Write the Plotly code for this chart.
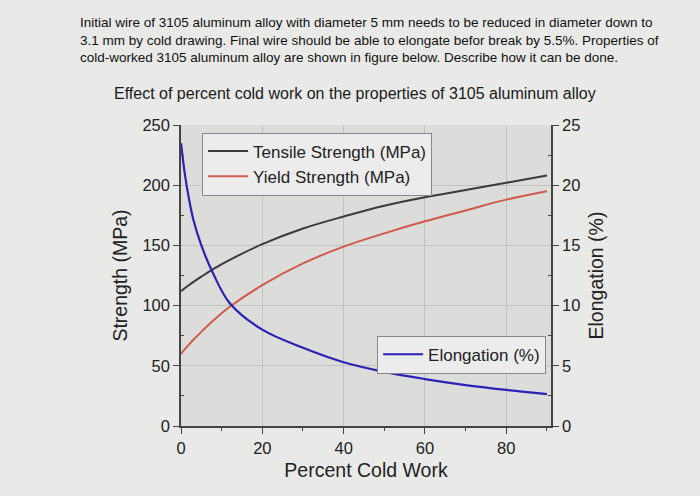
import plotly.graph_objects as go

# Data
cold_work = [0, 1, 2, 3, 5, 8, 12, 20, 30, 40, 50, 60, 70, 80, 90]
tensile_strength = [112, 114.6, 117.1, 119.5, 124, 130.5, 138, 151, 164, 174, 183, 190, 196, 202, 208]
yield_strength = [60, 64, 67.8, 71.4, 78.2, 87.8, 99, 117, 135, 149, 160, 170, 179, 188, 195]
elongation = [23.5, 20.8, 18.8, 17.2, 15.0, 12.6, 10.2, 8.0, 6.5, 5.3, 4.5, 3.9, 3.4, 3.0, 2.65]

strength_ticks = [0, 50, 100, 150, 200, 250]
elong_ticks = [0, 5, 10, 15, 20, 25]
x_ticks = [0, 20, 40, 60, 80]

question = ("Initial wire of 3105 aluminum alloy with diameter 5 mm needs to be reduced in diameter down to<br>"
            "3.1 mm by cold drawing. Final wire should be able to elongate befor break by 5.5%. Properties of<br>"
            "cold-worked 3105 aluminum alloy are shown in figure below. Describe how it can be done.")
chart_title = "Effect of percent cold work on the properties of 3105 aluminum alloy"

FONT = "Liberation Sans, Arial, sans-serif"
fig = go.Figure()
fig.add_trace(go.Scatter(x=cold_work, y=tensile_strength, mode="lines", name="Tensile Strength (MPa)",
                         line=dict(color="#3a3a3a", width=2, shape="spline", smoothing=1.0), legend="legend"))
fig.add_trace(go.Scatter(x=cold_work, y=yield_strength, mode="lines", name="Yield Strength (MPa)",
                         line=dict(color="#cf5a4c", width=2, shape="spline", smoothing=1.0), legend="legend"))
fig.add_trace(go.Scatter(x=cold_work, y=elongation, mode="lines", name="Elongation (%)", yaxis="y2",
                         line=dict(color="#2b21b5", width=2.2, shape="spline", smoothing=1.0), legend="legend2"))

axis_common = dict(showline=True, linecolor="#444", linewidth=1.5, ticks="outside", ticklen=6,
                   tickcolor="#444", tickfont=dict(size=16.5, color="#222", family=FONT),
                   zeroline=False)
title_font = dict(size=19.5, family=FONT, color="#222")

fig.update_layout(
    width=700, height=496,
    margin=dict(l=181, r=149, t=125, b=70),
    paper_bgcolor="#e9e9e7", plot_bgcolor="#dcdcda",
    font=dict(family=FONT, color="#222"),
    xaxis=dict(range=[0, 91], tickvals=x_ticks, showgrid=True, gridcolor="#c3c3c3", gridwidth=1,
               minor=dict(tickvals=[10, 30, 50, 70, 90], ticks="outside", ticklen=3, tickcolor="#444"),
               title=dict(text="Percent Cold Work", font=title_font, standoff=8),
               **axis_common),
    yaxis=dict(range=[0, 250], tickvals=strength_ticks, showgrid=True, gridcolor="#c3c3c3", gridwidth=1,
               minor=dict(tickvals=[25, 75, 125, 175, 225], ticks="inside", ticklen=3, tickcolor="#444"),
               title=dict(text="Strength (MPa)", font=title_font, standoff=10),
               **axis_common),
    yaxis2=dict(range=[0, 25], tickvals=elong_ticks, overlaying="y", side="right", showgrid=False,
                minor=dict(tickvals=[2.5, 7.5, 12.5, 17.5, 22.5], ticks="inside", ticklen=3, tickcolor="#444"),
                title=dict(text="Elongation (%)", font=title_font, standoff=10),
                **axis_common),
    legend=dict(x=0.057, y=0.975, xanchor="left", yanchor="top", bgcolor="#ececec",
                bordercolor="#888", borderwidth=1, font=dict(size=17, family=FONT),
                tracegroupgap=0, itemwidth=40),
    legend2=dict(x=0.53, y=0.30, xanchor="left", yanchor="top", bgcolor="#ececec",
                 bordercolor="#888", borderwidth=1, font=dict(size=17, family=FONT), itemwidth=40),
    showlegend=True,
    annotations=[
        dict(text=question, xref="paper", yref="paper", x=-0.278, y=1.372, xanchor="left", yanchor="top",
             align="left", showarrow=False, font=dict(size=13.5, family=FONT, color="#111")),
        dict(text=chart_title, xref="paper", yref="paper", x=0.47, y=1.106, xanchor="center", yanchor="middle",
             showarrow=False, font=dict(size=16, family=FONT, color="#1a1a1a")),
    ],
)

fig.write_html("out.html")
